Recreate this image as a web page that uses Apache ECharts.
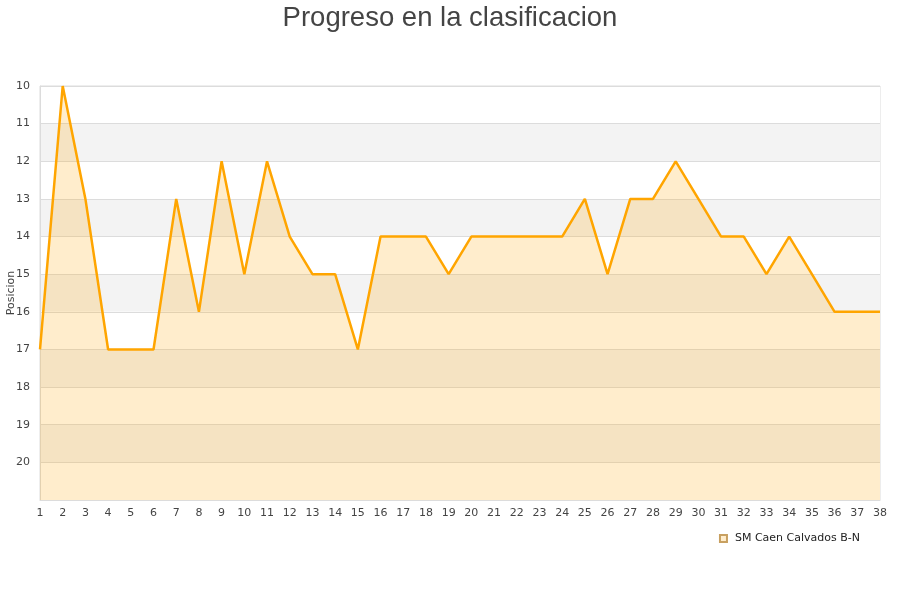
<!DOCTYPE html>
<html>
<head>
<meta charset="utf-8">
<script src="https://cdn.jsdelivr.net/npm/echarts@6/dist/echarts.min.js"></script>
<style>
  html, body { margin: 0; padding: 0; background: #fff; }
  #chart { width: 900px; height: 600px; }
</style>
</head>
<body>
<div id="chart"></div>
<script>
var jornadas = ['1','2','3','4','5','6','7','8','9','10','11','12','13','14','15','16','17','18','19',
    '20','21','22','23','24','25','26','27','28','29','30','31','32','33','34','35','36','37','38'];
var posiciones = [17, 10, 13, 17, 17, 17, 13, 16, 12, 15, 12, 14, 15, 15, 17, 14, 14, 14, 15,
    14, 14, 14, 14, 14, 13, 15, 13, 13, 12, 13, 14, 14, 15, 14, 15, 16, 16, 16];
var equipo = 'SM Caen Calvados B-N';

var chart = echarts.init(document.getElementById('chart'));
var option = {
    animation: false,
    title: {
        text: 'Progreso en la clasificacion',
        left: 'center',
        top: -1,
        textStyle: {
            fontFamily: 'Liberation Sans',
            fontSize: 27.5,
            fontWeight: 'normal',
            color: '#444'
        }
    },
    legend: {
        data: [equipo],
        right: 35,
        top: 528,
        icon: 'rect',
        itemWidth: 7,
        itemHeight: 7,
        itemGap: 10,
        textStyle: { fontFamily: 'DejaVu Sans', fontSize: 11, color: '#222', padding: [0, 0, 0, 3] }
    },
    grid: {
        left: 40,
        right: 20,
        top: 86,
        bottom: 100,
        show: true,
        borderColor: '#dcdcdc',
        borderWidth: 1,
        containLabel: false,
        outerBoundsMode: 'none'
    },
    xAxis: {
        type: 'category',
        data: jornadas,
        boundaryGap: false,
        axisLine: { lineStyle: { color: '#dcdcdc' } },
        axisTick: { show: false },
        axisLabel: {
            fontFamily: 'DejaVu Sans',
            fontSize: 11,
            color: '#444',
            margin: 8,
            interval: 0
        }
    },
    yAxis: {
        type: 'value',
        inverse: true,
        min: 10,
        max: 21,
        interval: 1,
        name: 'Posicion',
        nameLocation: 'middle',
        nameGap: 23,
        nameMoveOverlap: false,
        nameTextStyle: { fontFamily: 'DejaVu Sans', fontSize: 11, color: '#444' },
        axisLine: { show: true, lineStyle: { color: '#dcdcdc' } },
        axisTick: { show: false },
        axisLabel: {
            fontFamily: 'DejaVu Sans',
            fontSize: 11,
            color: '#444',
            margin: 10,
            formatter: function (v) { return v === 21 ? '' : v; }
        },
        splitLine: { show: true, lineStyle: { color: '#dcdcdc' } },
        splitArea: { show: true, areaStyle: { color: ['#ffffff', '#f3f3f3'] } }
    },
    series: [
        {
            name: equipo,
            type: 'line',
            data: posiciones,
            showSymbol: false,
            symbol: 'none',
            lineStyle: { color: '#ffa500', width: 2.5 },
            itemStyle: { color: '#ffedcc', borderColor: '#c8a060', borderWidth: 1 },
            areaStyle: { color: 'rgba(255,165,0,0.2)', opacity: 1, origin: 'end' }
        }
    ]
};
chart.setOption(option);
window.onresize = chart.resize;
</script>
</body>
</html>
